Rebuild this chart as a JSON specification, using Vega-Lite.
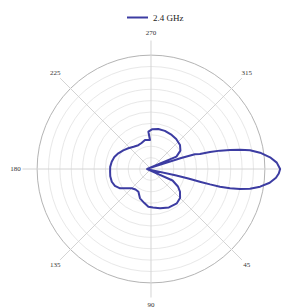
{
  "$schema": "https://vega.github.io/schema/vega-lite/v6.json",
  "width": 286,
  "height": 308,
  "padding": 0,
  "autosize": "none",
  "config": {"view": {"stroke": null}, "font": "Liberation Serif"},
  "datasets": {
    "pattern": [
      {"angle": 0, "gain": 1.005, "band": "2.4 GHz"},
      {"angle": 2, "gain": 0.995, "band": "2.4 GHz"},
      {"angle": 4, "gain": 0.975, "band": "2.4 GHz"},
      {"angle": 6.6, "gain": 0.93, "band": "2.4 GHz"},
      {"angle": 9.2, "gain": 0.86, "band": "2.4 GHz"},
      {"angle": 11.3, "gain": 0.785, "band": "2.4 GHz"},
      {"angle": 12.7, "gain": 0.71, "band": "2.4 GHz"},
      {"angle": 13.7, "gain": 0.633, "band": "2.4 GHz"},
      {"angle": 14.4, "gain": 0.554, "band": "2.4 GHz"},
      {"angle": 14.6, "gain": 0.475, "band": "2.4 GHz"},
      {"angle": 14.6, "gain": 0.4, "band": "2.4 GHz"},
      {"angle": 14.4, "gain": 0.3, "band": "2.4 GHz"},
      {"angle": 14.5, "gain": 0.195, "band": "2.4 GHz"},
      {"angle": 178, "gain": 0.03, "band": "2.4 GHz"},
      {"angle": 28, "gain": 0.19, "band": "2.4 GHz"},
      {"angle": 33, "gain": 0.25, "band": "2.4 GHz"},
      {"angle": 38, "gain": 0.286, "band": "2.4 GHz"},
      {"angle": 45, "gain": 0.32, "band": "2.4 GHz"},
      {"angle": 53, "gain": 0.334, "band": "2.4 GHz"},
      {"angle": 65, "gain": 0.33, "band": "2.4 GHz"},
      {"angle": 77, "gain": 0.314, "band": "2.4 GHz"},
      {"angle": 87, "gain": 0.3, "band": "2.4 GHz"},
      {"angle": 94, "gain": 0.294, "band": "2.4 GHz"},
      {"angle": 101, "gain": 0.27, "band": "2.4 GHz"},
      {"angle": 110.6, "gain": 0.244, "band": "2.4 GHz"},
      {"angle": 119, "gain": 0.202, "band": "2.4 GHz"},
      {"angle": 127, "gain": 0.2, "band": "2.4 GHz"},
      {"angle": 135, "gain": 0.212, "band": "2.4 GHz"},
      {"angle": 148, "gain": 0.284, "band": "2.4 GHz"},
      {"angle": 155, "gain": 0.31, "band": "2.4 GHz"},
      {"angle": 162, "gain": 0.321, "band": "2.4 GHz"},
      {"angle": 170, "gain": 0.322, "band": "2.4 GHz"},
      {"angle": 176, "gain": 0.319, "band": "2.4 GHz"},
      {"angle": 183, "gain": 0.318, "band": "2.4 GHz"},
      {"angle": 190.5, "gain": 0.311, "band": "2.4 GHz"},
      {"angle": 198, "gain": 0.3, "band": "2.4 GHz"},
      {"angle": 205.6, "gain": 0.282, "band": "2.4 GHz"},
      {"angle": 214, "gain": 0.26, "band": "2.4 GHz"},
      {"angle": 222.4, "gain": 0.239, "band": "2.4 GHz"},
      {"angle": 232, "gain": 0.22, "band": "2.4 GHz"},
      {"angle": 242, "gain": 0.21, "band": "2.4 GHz"},
      {"angle": 250, "gain": 0.215, "band": "2.4 GHz"},
      {"angle": 258.3, "gain": 0.23, "band": "2.4 GHz"},
      {"angle": 268, "gain": 0.226, "band": "2.4 GHz"},
      {"angle": 266, "gain": 0.291, "band": "2.4 GHz"},
      {"angle": 272, "gain": 0.31, "band": "2.4 GHz"},
      {"angle": 280.3, "gain": 0.317, "band": "2.4 GHz"},
      {"angle": 290, "gain": 0.316, "band": "2.4 GHz"},
      {"angle": 301.3, "gain": 0.31, "band": "2.4 GHz"},
      {"angle": 310, "gain": 0.305, "band": "2.4 GHz"},
      {"angle": 320.4, "gain": 0.293, "band": "2.4 GHz"},
      {"angle": 328, "gain": 0.27, "band": "2.4 GHz"},
      {"angle": 334, "gain": 0.22, "band": "2.4 GHz"},
      {"angle": 182, "gain": 0.03, "band": "2.4 GHz"},
      {"angle": 340, "gain": 0.25, "band": "2.4 GHz"},
      {"angle": 341.5, "gain": 0.36, "band": "2.4 GHz"},
      {"angle": 343, "gain": 0.398, "band": "2.4 GHz"},
      {"angle": 343.9, "gain": 0.478, "band": "2.4 GHz"},
      {"angle": 345.1, "gain": 0.556, "band": "2.4 GHz"},
      {"angle": 346.5, "gain": 0.633, "band": "2.4 GHz"},
      {"angle": 347.8, "gain": 0.709, "band": "2.4 GHz"},
      {"angle": 349.3, "gain": 0.784, "band": "2.4 GHz"},
      {"angle": 351.5, "gain": 0.858, "band": "2.4 GHz"},
      {"angle": 354.4, "gain": 0.931, "band": "2.4 GHz"},
      {"angle": 357.1, "gain": 0.98, "band": "2.4 GHz"},
      {"angle": 360, "gain": 1.005, "band": "2.4 GHz"}
    ],
    "rings": [
      {"r": 0.1}, {"r": 0.2}, {"r": 0.3}, {"r": 0.4}, {"r": 0.5},
      {"r": 0.6}, {"r": 0.7}, {"r": 0.8}, {"r": 0.9}, {"r": 1.0}
    ],
    "spokes": [{"angle": 0}, {"angle": 45}, {"angle": 90}, {"angle": 135}],
    "labels": [
      {"angle": 45, "label": "45"},
      {"angle": 90, "label": "90"}, {"angle": 135, "label": "135"},
      {"angle": 180, "label": "180"}, {"angle": 225, "label": "225"},
      {"angle": 270, "label": "270"}, {"angle": 315, "label": "315"}
    ]
  },
  "layer": [
    {
      "data": {"name": "rings"},
      "mark": {"type": "point", "shape": "circle", "filled": false, "strokeWidth": 1, "opacity": 1},
      "encoding": {
        "x": {"datum": 0, "type": "quantitative", "scale": {"domain": [-1.1751, 1.0506], "nice": false, "zero": false}, "axis": null},
        "y": {"datum": 0, "type": "quantitative", "scale": {"domain": [-1.3152, 1.0817], "nice": false, "zero": false, "reverse": true}, "axis": null},
        "size": {"field": "r", "type": "quantitative", "scale": {"type": "pow", "exponent": 2, "domain": [0, 1], "range": [0, 51874]}, "legend": null},
        "stroke": {"condition": {"test": "datum.r == 1", "value": "#b4b4b4"}, "value": "#e8e8e8"}
      }
    },
    {
      "data": {"name": "spokes"},
      "transform": [
        {"calculate": "cos(datum.angle * PI / 180)", "as": "x1"},
        {"calculate": "sin(datum.angle * PI / 180)", "as": "y1"},
        {"calculate": "-datum.x1", "as": "x0"},
        {"calculate": "-datum.y1", "as": "y0"}
      ],
      "mark": {"type": "rule", "stroke": "#d4d4d4", "strokeWidth": 1},
      "encoding": {
        "x": {"field": "x0", "type": "quantitative"},
        "x2": {"field": "x1"},
        "y": {"field": "y0", "type": "quantitative"},
        "y2": {"field": "y1"}
      }
    },
    {
      "data": {"name": "labels"},
      "transform": [
        {"calculate": "1.055 * cos(datum.angle * PI / 180)", "as": "lx"},
        {"calculate": "1.055 * sin(datum.angle * PI / 180)", "as": "ly"}
      ],
      "mark": {"type": "text", "fontSize": 7, "font": "Liberation Serif", "color": "#333333", "align": "center", "baseline": "middle"},
      "encoding": {
        "x": {"field": "lx", "type": "quantitative"},
        "y": {"field": "ly", "type": "quantitative"},
        "text": {"field": "label"}
      }
    },
    {
      "data": {"name": "pattern"},
      "transform": [
        {"calculate": "datum.gain * cos(datum.angle * PI / 180)", "as": "px"},
        {"calculate": "datum.gain * sin(datum.angle * PI / 180)", "as": "py"}
      ],
      "mark": {"type": "line", "strokeWidth": 2, "strokeJoin": "round", "strokeCap": "round"},
      "encoding": {
        "x": {"field": "px", "type": "quantitative"},
        "y": {"field": "py", "type": "quantitative"},
        "order": {"value": null},
        "color": {
          "field": "band", "type": "nominal",
          "scale": {"range": ["#3c3ca2"]},
          "legend": {
            "title": null, "orient": "none", "legendX": 126, "legendY": 6,
            "symbolType": "stroke", "symbolSize": 441, "symbolStrokeWidth": 2,
            "labelFont": "Liberation Serif", "labelFontSize": 9, "labelColor": "#222222"
          }
        }
      }
    }
  ]
}
